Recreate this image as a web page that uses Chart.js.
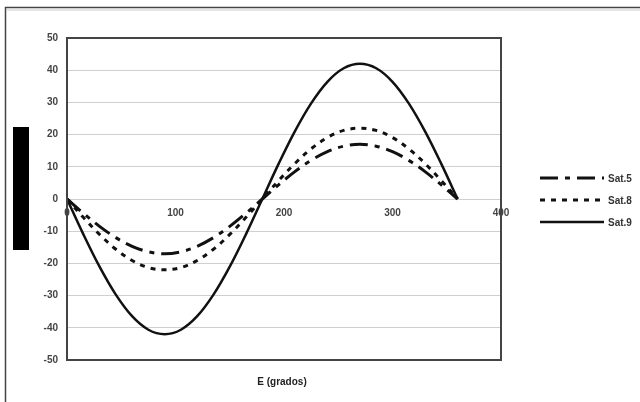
<!DOCTYPE html>
<html>
<head>
<meta charset="utf-8">
<script src="https://cdn.jsdelivr.net/npm/chart.js@4.4.1/dist/chart.umd.min.js"></script>
<style>
  html, body { margin: 0; padding: 0; background: #fff; }
  #wrap { width: 640px; height: 402px; position: relative; }
</style>
</head>
<body>
<div id="wrap"><canvas id="myChart" width="640" height="402"></canvas></div>
<script>
// angle E in degrees
const angles = [0, 15, 30, 45, 60, 75, 90, 105, 120, 135, 150, 165, 180,
  195, 210, 225, 240, 255, 270, 285, 300, 315, 330, 345, 360];

// values
const sat5 = [0, -4.4, -8.5, -12, -14.7, -16.4, -17, -16.4, -14.7, -12, -8.5, -4.4, 0,
  4.4, 8.5, 12, 14.7, 16.4, 17, 16.4, 14.7, 12, 8.5, 4.4, 0];
const sat8 = [0, -5.7, -11, -15.6, -19.1, -21.3, -22, -21.3, -19.1, -15.6, -11, -5.7, 0,
  5.7, 11, 15.6, 19.1, 21.3, 22, 21.3, 19.1, 15.6, 11, 5.7, 0];
const sat9 = [0, -10.9, -21, -29.7, -36.4, -40.6, -42, -40.6, -36.4, -29.7, -21, -10.9, 0,
  10.9, 21, 29.7, 36.4, 40.6, 42, 40.6, 36.4, 29.7, 21, 10.9, 0];

const seriesNames = ["Sat.5", "Sat.8", "Sat.9"];
const xTitle = "E (grados)";

const toPoints = (vals) => vals.map((v, i) => ({ x: angles[i], y: v }));

const FONT = "'Liberation Sans', Arial, sans-serif";

// frame, plot border, legend and axis title
const decorPlugin = {
  id: "decor",
  beforeDraw(chart) {
    const ctx = chart.ctx;
    ctx.save();
    // outer frame (top and left visible)
    ctx.strokeStyle = "#444";
    ctx.lineWidth = 1.5;
    ctx.beginPath();
    ctx.moveTo(5.5, 402);
    ctx.lineTo(5.5, 7.5);
    ctx.lineTo(640, 7.5);
    ctx.stroke();
    ctx.strokeStyle = "#e4e4e4";
    ctx.lineWidth = 2;
    ctx.beginPath();
    ctx.moveTo(7, 10);
    ctx.lineTo(640, 10);
    ctx.stroke();
    // black block where the y title sits
    ctx.fillStyle = "#000";
    ctx.fillRect(13, 127, 16, 123);
    ctx.restore();
  },
  afterDatasetsDraw(chart) {
    const ctx = chart.ctx;
    const a = chart.chartArea;
    ctx.save();
    ctx.strokeStyle = "#444";
    ctx.lineWidth = 2;
    ctx.strokeRect(a.left, a.top, a.right - a.left, a.bottom - a.top);

    // axis title
    ctx.fillStyle = "#222";
    ctx.font = "bold 10px " + FONT;
    ctx.textAlign = "center";
    ctx.textBaseline = "middle";
    ctx.fillText(xTitle, (a.left + a.right) / 2 - 2, 382);

    // legend
    ctx.textAlign = "left";
    ctx.font = "bold 10px " + FONT;
    chart.data.datasets.forEach((ds, i) => {
      const y = 178 + i * 22;
      ctx.strokeStyle = ds.borderColor;
      ctx.lineWidth = ds.borderWidth;
      ctx.setLineDash(ds.borderDash || []);
      ctx.beginPath();
      ctx.moveTo(540, y);
      ctx.lineTo(604, y);
      ctx.stroke();
      ctx.setLineDash([]);
      ctx.fillStyle = "#333";
      ctx.fillText(ds.label, 608, y + 1);
    });
    ctx.restore();
  },
};

const ctx = document.getElementById("myChart").getContext("2d");
new Chart(ctx, {
  type: "line",
  data: {
    datasets: [
      {
        label: seriesNames[0],
        data: toPoints(sat5),
        borderColor: "#111",
        borderWidth: 3,
        borderDash: [18, 7, 5, 7],
        pointRadius: 0,
        tension: 0.35,
        fill: false,
      },
      {
        label: seriesNames[1],
        data: toPoints(sat8),
        borderColor: "#111",
        borderWidth: 3,
        borderDash: [5, 6],
        pointRadius: 0,
        tension: 0.35,
        fill: false,
      },
      {
        label: seriesNames[2],
        data: toPoints(sat9),
        borderColor: "#111",
        borderWidth: 2.5,
        pointRadius: 0,
        tension: 0.35,
        fill: false,
      },
    ],
  },
  options: {
    responsive: false,
    animation: false,
    devicePixelRatio: 1,
    layout: { padding: { left: 0, right: 139, top: 38, bottom: 42 } },
    plugins: {
      legend: { display: false },
      tooltip: { enabled: false },
    },
    scales: {
      x: {
        type: "linear",
        position: { y: 0 },
        min: 0,
        max: 400,
        ticks: {
          stepSize: 100,
          padding: 8,
          color: "#444",
          font: { family: FONT, size: 10, weight: "bold" },
        },
        grid: { display: false, drawTicks: false },
        border: { display: false },
      },
      y: {
        min: -50,
        max: 50,
        afterFit: (scale) => { scale.width = 67; },
        ticks: {
          stepSize: 10,
          padding: 9,
          color: "#444",
          font: { family: FONT, size: 10, weight: "bold" },
        },
        grid: { color: "#cfcfcf", lineWidth: 1, drawTicks: false },
        border: { display: false },
      },
    },
  },
  plugins: [decorPlugin],
});
</script>
</body>
</html>
